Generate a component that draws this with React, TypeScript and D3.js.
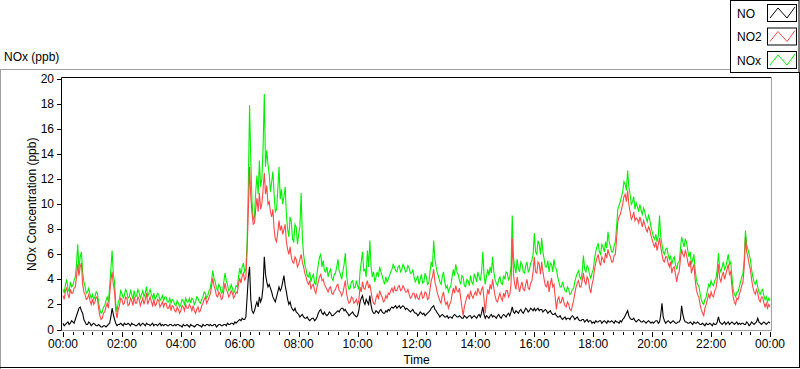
import { useEffect, useRef } from 'react'
import * as d3 from 'd3'

// Samples every 2.5 minutes, 00:00 -> 24:00 (one row per hour)
const no2 = [
  2.7, 2.4, 3.1, 3.3, 2.8, 2.5, 3.2, 2.9, 2.9, 3.3, 3.4, 4.2, 5.2, 4.3, 5.0, 5.3, 3.6, 3.0, 2.8, 2.4, 2.5, 2.8, 2.3, 2.0,
  2.4, 2.0, 2.2, 2.6, 2.5, 1.7, 1.1, 0.8, 0.9, 1.3, 1.4, 1.8, 2.1, 1.7, 2.8, 3.9, 4.6, 3.6, 3.0, 1.5, 0.9, 1.6, 1.9, 2.5,
  2.4, 2.0, 2.1, 2.6, 2.5, 1.9, 2.0, 2.5, 2.3, 1.9, 2.6, 2.1, 2.1, 2.6, 2.4, 1.9, 2.2, 2.5, 2.0, 2.4, 2.9, 2.0, 2.3, 2.6,
  2.2, 1.9, 2.4, 1.9, 2.0, 2.4, 2.3, 1.8, 2.0, 2.2, 1.8, 2.1, 2.1, 1.7, 1.7, 2.0, 1.5, 1.9, 1.8, 1.5, 1.4, 1.8, 1.6, 1.3,
  1.5, 1.9, 1.8, 1.5, 2.0, 1.7, 1.7, 2.0, 1.8, 1.5, 1.9, 1.5, 1.3, 1.6, 1.8, 1.4, 1.5, 1.9, 2.1, 2.4, 2.6, 2.1, 2.3, 2.6,
  2.8, 3.4, 4.1, 3.5, 3.2, 2.7, 2.6, 3.0, 2.8, 2.4, 2.5, 3.1, 3.7, 3.2, 3.0, 2.6, 2.8, 3.1, 2.9, 2.5, 2.7, 3.0, 2.9, 3.6,
  4.1, 3.7, 4.3, 4.5, 3.9, 4.2, 6.3, 9.5, 13.0, 10.6, 9.3, 8.4, 8.5, 9.6, 10.5, 9.4, 10.9, 9.6, 10.0, 11.2, 12.5, 10.8, 11.5, 10.0,
  10.2, 9.4, 9.0, 9.6, 8.0, 7.2, 7.0, 7.8, 8.7, 7.9, 8.3, 7.6, 8.0, 8.4, 7.0, 6.4, 6.0, 6.6, 5.8, 5.4, 5.3, 5.8, 5.6, 5.0,
  5.2, 5.6, 6.0, 5.4, 5.0, 4.5, 4.2, 3.8, 3.6, 3.9, 3.2, 3.5, 3.6, 3.1, 2.9, 3.4, 3.8, 4.2, 4.4, 3.9, 4.0, 3.6, 3.4, 3.2,
  3.0, 3.3, 3.4, 2.9, 2.8, 3.1, 3.2, 3.5, 3.6, 3.1, 3.0, 2.7, 2.9, 3.4, 3.9, 2.9, 2.4, 2.1, 2.2, 2.6, 2.5, 2.1, 2.2, 2.4,
  2.0, 2.3, 3.4, 3.0, 3.8, 3.3, 3.2, 3.6, 3.9, 3.3, 3.6, 3.0, 2.4, 2.1, 2.0, 2.5, 2.8, 2.4, 3.1, 2.8, 2.6, 2.2, 2.3, 2.7,
  2.5, 2.9, 2.8, 3.1, 3.3, 3.0, 3.4, 3.1, 3.1, 3.4, 3.5, 3.1, 3.2, 3.5, 3.3, 3.0, 3.0, 3.2, 2.8, 2.5, 2.6, 2.9, 2.9, 2.5,
  2.8, 2.5, 2.4, 2.8, 3.0, 2.5, 2.6, 3.0, 2.9, 2.4, 2.5, 3.2, 3.9, 4.2, 4.8, 3.8, 3.4, 2.9, 2.6, 2.3, 2.1, 2.7, 3.0, 2.3,
  2.0, 2.2, 1.7, 2.0, 2.2, 2.8, 3.3, 2.9, 3.5, 3.1, 3.0, 3.3, 2.5, 1.8, 1.1, 1.8, 2.2, 2.6, 2.8, 2.4, 3.1, 2.7, 2.5, 2.8,
  3.0, 2.7, 3.3, 3.0, 2.8, 3.2, 3.4, 2.4, 1.3, 2.4, 3.2, 2.8, 3.6, 3.2, 4.0, 3.3, 2.7, 2.3, 2.2, 2.6, 2.9, 2.5, 2.3, 2.9,
  2.6, 3.1, 3.1, 2.6, 2.8, 3.6, 7.3, 4.4, 3.6, 3.2, 4.2, 3.5, 3.0, 3.5, 3.8, 3.2, 3.1, 3.6, 4.0, 3.3, 3.2, 3.7, 3.9, 4.6,
  5.8, 4.6, 4.5, 5.4, 5.2, 4.4, 5.4, 4.6, 4.0, 3.5, 3.4, 3.9, 3.0, 3.6, 4.1, 3.4, 3.6, 2.6, 1.6, 2.4, 2.6, 2.1, 2.2, 2.6,
  2.2, 1.9, 1.8, 2.2, 2.0, 1.6, 1.5, 1.9, 2.3, 2.9, 3.4, 3.7, 3.9, 3.4, 3.4, 3.9, 4.5, 3.8, 3.6, 4.2, 4.0, 3.3, 2.9, 3.6,
  4.0, 4.8, 5.3, 5.7, 6.0, 5.4, 5.1, 5.8, 5.6, 5.3, 6.1, 5.7, 6.4, 6.0, 5.8, 5.4, 5.4, 5.9, 6.0, 7.2, 8.6, 9.0, 9.2, 9.6,
  10.0, 10.6, 10.8, 10.2, 11.1, 10.0, 9.4, 8.8, 9.0, 9.4, 8.7, 8.9, 8.8, 8.5, 9.0, 8.6, 8.2, 8.7, 8.4, 8.0, 7.8, 8.2, 8.0, 7.5,
  7.2, 6.8, 6.6, 7.0, 6.3, 6.8, 7.3, 6.6, 6.0, 5.5, 5.4, 5.8, 5.8, 5.3, 5.0, 5.4, 4.5, 4.9, 5.0, 4.4, 3.8, 4.4, 4.6, 5.6,
  6.4, 6.0, 5.8, 6.3, 6.0, 5.4, 5.0, 5.5, 4.5, 4.9, 5.2, 4.0, 3.2, 2.8, 2.6, 2.0, 1.6, 1.3, 1.1, 1.7, 2.0, 2.4, 2.8, 2.5,
  3.0, 2.7, 2.6, 3.1, 3.3, 4.0, 5.2, 4.1, 3.8, 4.3, 4.6, 4.0, 4.4, 4.8, 5.2, 4.4, 4.6, 3.4, 2.6, 2.2, 2.0, 2.5, 2.4, 2.8,
  3.1, 3.5, 3.8, 5.0, 7.4, 6.2, 5.8, 5.2, 4.8, 4.0, 3.4, 3.0, 2.8, 3.2, 2.9, 2.4, 2.2, 2.6, 2.6, 2.1, 1.8, 2.1, 1.7, 2.0,
  1.8,
]

const nox = [
  3.2, 2.9, 3.6, 4.0, 3.3, 3.0, 3.8, 3.4, 3.5, 3.9, 4.2, 5.2, 6.8, 4.8, 5.8, 6.2, 4.6, 3.8, 3.4, 2.9, 3.0, 3.3, 2.8, 2.5,
  2.8, 2.4, 2.6, 3.0, 2.9, 2.2, 1.6, 1.3, 1.4, 1.8, 1.9, 2.3, 2.6, 2.2, 3.4, 4.8, 6.3, 4.4, 3.8, 2.0, 1.4, 2.2, 2.4, 3.1,
  2.9, 2.5, 2.7, 3.2, 3.0, 2.5, 2.6, 3.1, 2.8, 2.4, 3.1, 2.6, 2.7, 3.2, 2.9, 2.5, 2.8, 3.1, 2.6, 2.9, 3.4, 2.6, 2.9, 3.2,
  2.8, 2.5, 2.9, 2.4, 2.6, 2.9, 2.8, 2.3, 2.5, 2.7, 2.3, 2.6, 2.6, 2.2, 2.2, 2.5, 2.1, 2.4, 2.3, 2.0, 1.9, 2.3, 2.1, 1.8,
  2.0, 2.4, 2.3, 2.0, 2.5, 2.2, 2.2, 2.5, 2.1, 2.5, 2.4, 2.0, 2.2, 2.6, 2.5, 2.2, 2.1, 2.4, 2.6, 3.0, 2.9, 2.5, 2.7, 3.1,
  3.3, 3.9, 4.7, 4.1, 3.8, 3.3, 3.1, 3.6, 3.4, 2.9, 3.0, 3.8, 4.5, 3.9, 3.6, 3.1, 3.2, 3.6, 3.3, 2.9, 3.1, 3.5, 3.4, 4.2,
  4.9, 4.4, 5.0, 5.3, 4.6, 4.8, 7.0, 11.5, 17.9, 13.5, 10.2, 8.8, 9.0, 11.0, 12.3, 10.8, 13.5, 11.4, 12.0, 14.4, 18.8, 13.0, 14.3, 13.2,
  12.4, 11.0, 11.8, 12.6, 10.8, 9.4, 9.6, 11.2, 13.0, 10.4, 11.2, 10.0, 10.6, 11.4, 9.2, 8.0, 7.4, 9.0, 8.6, 7.2, 7.0, 8.4, 8.2, 6.8,
  7.6, 8.2, 10.9, 7.4, 6.0, 5.2, 4.8, 4.3, 4.2, 4.6, 3.8, 4.2, 4.4, 3.7, 3.6, 4.5, 5.2, 5.8, 6.0, 5.0, 5.5, 4.7, 4.6, 5.0,
  4.2, 4.6, 4.8, 4.1, 3.9, 4.4, 4.5, 5.0, 5.6, 4.7, 4.4, 4.0, 4.6, 5.2, 6.1, 4.4, 3.6, 3.2, 3.3, 3.8, 3.9, 3.3, 3.4, 3.9,
  3.5, 3.2, 4.6, 5.4, 6.2, 4.7, 4.8, 4.2, 6.3, 5.0, 7.1, 5.0, 4.2, 4.6, 3.8, 4.2, 4.6, 4.2, 5.0, 4.6, 4.3, 3.9, 3.6, 4.2,
  3.8, 4.0, 4.3, 4.6, 4.8, 5.2, 5.0, 4.7, 4.6, 5.0, 5.1, 4.6, 4.8, 5.2, 5.0, 4.6, 4.7, 5.1, 4.9, 4.5, 4.5, 4.8, 4.2, 3.8,
  4.0, 4.3, 3.6, 4.0, 4.4, 3.7, 3.8, 4.5, 4.2, 3.6, 3.7, 4.6, 5.4, 5.0, 7.1, 5.6, 5.0, 4.5, 4.2, 3.8, 3.6, 4.2, 4.6, 3.8,
  3.3, 3.5, 3.0, 3.3, 3.5, 4.2, 4.8, 4.3, 5.2, 4.6, 4.4, 3.9, 3.6, 4.3, 4.2, 3.5, 3.4, 4.0, 3.9, 3.5, 4.3, 3.8, 3.6, 4.4,
  4.2, 3.8, 4.6, 4.2, 3.9, 4.6, 6.2, 4.4, 3.6, 4.2, 4.8, 4.3, 5.0, 4.5, 5.8, 4.6, 4.0, 3.7, 3.5, 4.0, 4.2, 3.7, 3.6, 4.3,
  4.0, 4.6, 4.5, 3.9, 4.2, 5.0, 9.1, 5.8, 5.0, 4.5, 5.6, 4.9, 4.6, 5.4, 5.2, 4.6, 4.5, 5.1, 5.4, 4.6, 4.8, 5.3, 5.5, 6.0,
  7.7, 6.2, 6.0, 7.1, 6.8, 6.0, 7.3, 6.2, 5.6, 5.0, 5.0, 5.5, 4.6, 5.3, 5.2, 4.6, 5.6, 5.0, 4.8, 4.2, 3.8, 3.4, 3.4, 3.8,
  3.4, 3.1, 3.0, 3.4, 3.2, 2.8, 2.9, 3.2, 3.3, 3.8, 4.2, 4.5, 4.7, 4.2, 4.0, 4.6, 5.9, 4.8, 4.6, 5.1, 4.9, 4.4, 4.1, 4.5,
  4.8, 5.6, 6.2, 6.6, 6.9, 6.2, 6.0, 6.8, 6.6, 6.2, 7.0, 6.5, 7.8, 7.0, 6.6, 6.2, 6.2, 6.7, 7.0, 8.2, 9.6, 9.9, 10.2, 10.6,
  11.0, 11.8, 11.6, 11.1, 12.7, 11.4, 10.8, 10.0, 10.2, 10.6, 9.6, 10.1, 9.8, 9.4, 10.0, 9.5, 9.2, 9.7, 9.4, 8.9, 8.6, 9.1, 8.8, 8.2,
  7.8, 7.4, 7.2, 7.6, 7.0, 7.5, 9.1, 7.4, 6.8, 6.2, 6.0, 6.4, 6.5, 6.0, 5.6, 5.9, 5.2, 5.6, 5.8, 5.2, 4.8, 5.3, 5.4, 6.4,
  7.4, 7.0, 6.6, 7.2, 7.0, 6.3, 5.8, 6.2, 5.2, 5.6, 6.0, 4.8, 4.0, 3.6, 3.5, 2.9, 2.4, 2.1, 2.0, 2.4, 2.6, 3.1, 3.6, 3.4,
  3.9, 3.6, 3.5, 3.9, 4.1, 4.8, 6.1, 4.9, 4.6, 5.0, 5.4, 4.8, 5.0, 5.5, 6.0, 5.2, 5.4, 4.2, 3.2, 2.8, 2.6, 3.0, 3.0, 3.4,
  3.8, 4.2, 4.5, 5.6, 7.9, 6.8, 6.4, 6.0, 5.6, 4.8, 4.2, 3.8, 3.6, 3.9, 3.4, 3.0, 2.8, 3.1, 3.2, 2.7, 2.4, 2.6, 2.2, 2.5,
  2.3,
]

const no = [
  0.5, 0.3, 0.4, 0.5, 0.6, 0.4, 0.5, 0.7, 0.6, 0.5, 0.8, 1.1, 1.4, 1.7, 1.8, 1.5, 1.3, 0.8, 0.6, 0.4, 0.4, 0.6, 0.5, 0.3,
  0.4, 0.5, 0.4, 0.3, 0.3, 0.4, 0.3, 0.2, 0.2, 0.3, 0.3, 0.2, 0.3, 0.4, 0.5, 1.0, 1.7, 1.2, 0.8, 0.5, 0.3, 0.4, 0.4, 0.5,
  0.4, 0.3, 0.5, 0.4, 0.4, 0.5, 0.4, 0.3, 0.5, 0.4, 0.4, 0.3, 0.3, 0.4, 0.5, 0.3, 0.4, 0.5, 0.4, 0.3, 0.5, 0.4, 0.4, 0.3,
  0.4, 0.5, 0.3, 0.4, 0.4, 0.3, 0.4, 0.5, 0.3, 0.4, 0.3, 0.4, 0.4, 0.3, 0.3, 0.4, 0.4, 0.3, 0.3, 0.4, 0.3, 0.4, 0.4, 0.3,
  0.3, 0.2, 0.4, 0.3, 0.3, 0.4, 0.3, 0.2, 0.4, 0.3, 0.3, 0.2, 0.3, 0.4, 0.4, 0.3, 0.3, 0.2, 0.4, 0.3, 0.3, 0.4, 0.4, 0.3,
  0.4, 0.3, 0.3, 0.4, 0.4, 0.2, 0.3, 0.4, 0.4, 0.3, 0.3, 0.4, 0.4, 0.3, 0.5, 0.4, 0.4, 0.5, 0.5, 0.4, 0.6, 0.5, 0.6, 0.7,
  0.8, 0.7, 0.9, 0.8, 0.8, 1.0, 2.6, 4.2, 5.0, 2.4, 1.5, 1.3, 1.5, 1.9, 2.2, 1.8, 2.6, 2.2, 2.5, 3.4, 5.8, 4.4, 3.8, 3.4,
  3.6, 3.3, 3.0, 2.6, 2.4, 2.2, 2.6, 3.0, 3.4, 3.1, 3.3, 3.8, 4.3, 3.5, 3.0, 2.4, 2.0, 2.2, 1.8, 1.6, 1.5, 1.7, 1.4, 1.3,
  1.2, 1.0, 1.1, 1.2, 1.0, 0.9, 0.9, 1.0, 0.8, 0.7, 0.8, 0.9, 0.9, 0.7, 0.8, 1.0, 1.3, 1.5, 1.6, 1.3, 1.2, 1.4, 1.2, 1.1,
  1.2, 1.4, 1.3, 1.1, 1.1, 1.2, 1.3, 1.4, 1.5, 1.4, 1.6, 1.7, 1.7, 1.5, 1.6, 1.4, 1.3, 1.1, 1.2, 1.3, 1.4, 1.2, 1.1, 1.0,
  1.1, 1.5, 2.2, 2.5, 2.7, 2.2, 2.0, 2.4, 2.2, 2.0, 2.7, 1.9, 1.5, 1.3, 1.3, 1.5, 1.4, 1.3, 1.5, 1.6, 1.4, 1.3, 1.3, 1.5,
  1.4, 1.6, 1.5, 1.7, 1.8, 1.7, 1.8, 1.9, 1.7, 1.8, 1.9, 1.7, 1.8, 1.9, 1.8, 1.6, 1.7, 1.6, 1.5, 1.4, 1.5, 1.6, 1.4, 1.3,
  1.3, 1.1, 1.2, 1.4, 1.3, 1.2, 1.3, 1.1, 1.2, 1.3, 1.4, 1.5, 1.7, 1.8, 1.9, 1.6, 1.5, 1.3, 1.2, 1.0, 1.1, 1.2, 1.1, 1.0,
  1.0, 1.1, 0.9, 1.0, 1.0, 0.9, 1.1, 1.2, 1.1, 1.0, 1.0, 1.1, 1.0, 0.9, 0.9, 1.1, 1.0, 0.9, 1.0, 1.1, 1.1, 0.9, 1.0, 1.1,
  1.0, 0.9, 1.1, 1.2, 1.0, 1.3, 1.8, 1.2, 0.9, 1.1, 1.0, 0.9, 1.1, 1.2, 1.0, 1.1, 1.0, 0.9, 1.1, 1.2, 1.0, 0.9, 1.1, 1.2,
  1.1, 1.0, 1.2, 1.3, 1.1, 1.4, 1.8, 1.4, 1.3, 1.5, 1.4, 1.3, 1.5, 1.6, 1.4, 1.3, 1.5, 1.7, 1.6, 1.4, 1.5, 1.7, 1.6, 1.5,
  1.7, 1.5, 1.6, 1.7, 1.5, 1.6, 1.6, 1.4, 1.5, 1.6, 1.5, 1.3, 1.4, 1.5, 1.3, 1.2, 1.2, 1.3, 1.1, 1.0, 1.0, 1.1, 0.9, 0.8,
  0.9, 1.0, 0.8, 0.9, 0.9, 0.8, 1.0, 1.1, 1.0, 0.8, 0.9, 1.0, 0.8, 0.7, 0.7, 0.8, 0.8, 0.6, 0.7, 0.8, 0.6, 0.7, 0.7, 0.5,
  0.6, 0.5, 0.7, 0.6, 0.6, 0.7, 0.7, 0.5, 0.6, 0.7, 0.6, 0.5, 0.7, 0.6, 0.6, 0.7, 0.6, 0.5, 0.7, 0.6, 0.6, 0.5, 0.7, 0.6,
  0.8, 0.9, 1.1, 1.3, 1.5, 1.1, 0.9, 0.8, 0.8, 0.9, 0.7, 0.6, 0.7, 0.8, 0.7, 0.6, 0.6, 0.7, 0.6, 0.5, 0.6, 0.7, 0.6, 0.5,
  0.6, 0.5, 0.6, 0.7, 0.7, 0.5, 0.6, 1.2, 2.1, 1.0, 0.7, 0.5, 0.6, 0.7, 0.6, 0.5, 0.6, 0.7, 0.6, 0.5, 0.5, 0.6, 0.6, 0.8,
  1.9, 1.2, 0.8, 0.6, 0.6, 0.5, 0.5, 0.6, 0.5, 0.4, 0.6, 0.5, 0.5, 0.6, 0.5, 0.4, 0.4, 0.5, 0.4, 0.3, 0.5, 0.4, 0.4, 0.5,
  0.4, 0.3, 0.5, 0.4, 0.4, 0.6, 1.0, 0.6, 0.5, 0.4, 0.5, 0.6, 0.4, 0.5, 0.6, 0.4, 0.5, 0.6, 0.5, 0.4, 0.5, 0.6, 0.4, 0.5,
  0.4, 0.5, 0.5, 0.4, 0.4, 0.6, 0.5, 0.3, 0.4, 0.6, 0.5, 0.4, 0.5, 0.6, 0.9, 0.6, 0.5, 0.4, 0.5, 0.6, 0.5, 0.4, 0.5, 0.6,
  0.5,
]

const series = [
  { name: 'NO', values: no, color: '#000000' },
  { name: 'NO2', values: no2, color: '#ff4848' },
  { name: 'NOx', values: nox, color: '#00f000' },
]

const yTicks = [0, 2, 4, 6, 8, 10, 12, 14, 16, 18, 20]

const FONT = '"Liberation Sans", Arial, sans-serif'

export default function App() {
  const ref = useRef<SVGSVGElement>(null)

  useEffect(() => {
    if (!ref.current) return
    const W = 800
    const H = 369
    const plot = { left: 63, right: 770, top: 79, bottom: 329.5 }

    const svg = d3.select(ref.current)
    svg.selectAll('*').remove()
    svg.attr('width', W).attr('height', H).style('font-family', FONT)

    svg.append('rect').attr('width', W).attr('height', H).attr('fill', '#ffffff')

    const t0 = new Date(2000, 0, 1, 0, 0)
    const t1 = new Date(2000, 0, 2, 0, 0)
    const x = d3.scaleTime().domain([t0, t1]).range([plot.left, plot.right])
    const y = d3.scaleLinear().domain([0, 20]).range([plot.bottom, plot.top])
    // evenly spaced samples over the day
    const timeAt = (i: number, n: number) => new Date(t0.getTime() + (i / (n - 1)) * (t1.getTime() - t0.getTime()))

    // outer frame (sunken look: grey top/left, black bottom/right)
    svg.append('line').attr('x1', 0).attr('x2', 730).attr('y1', 69.5).attr('y2', 69.5).attr('stroke', '#a0a0a0')
    svg.append('line').attr('x1', 0.5).attr('x2', 0.5).attr('y1', 69.5).attr('y2', H).attr('stroke', '#a0a0a0')
    svg.append('line').attr('x1', 0).attr('x2', W).attr('y1', 367.5).attr('y2', 367.5).attr('stroke', '#000')
    svg.append('line').attr('x1', 799.5).attr('x2', 799.5).attr('y1', 72).attr('y2', 368).attr('stroke', '#000')

    // y title above plot
    svg.append('text').attr('x', 4).attr('y', 61).attr('font-size', 12).attr('fill', '#000').text('NOx (ppb)')

    // plot area border
    const pb = svg.append('g')
    pb.append('line').attr('x1', plot.left - 1.5).attr('x2', plot.right + 1.5).attr('y1', 77.5).attr('y2', 77.5).attr('stroke', '#000')
    pb.append('line').attr('x1', plot.left - 1.5).attr('x2', plot.left - 1.5).attr('y1', 77.5).attr('y2', 331).attr('stroke', '#000')
    pb.append('line').attr('x1', plot.left - 1.5).attr('x2', plot.right + 1.5).attr('y1', 330.5).attr('y2', 330.5).attr('stroke', '#a0a0a0')
    pb.append('line').attr('x1', plot.right + 1.5).attr('x2', plot.right + 1.5).attr('y1', 77.5).attr('y2', 331).attr('stroke', '#a0a0a0')

    // series lines
    const lineGen = (vals: number[]) =>
      d3.line<number>()
        .x((_, i) => x(timeAt(i, vals.length)))
        .y((d) => y(d))(vals)

    const drawOrder = [series[2], series[1], series[0]]
    svg.append('g')
      .selectAll('path')
      .data(drawOrder)
      .join('path')
      .attr('d', (s) => lineGen(s.values))
      .attr('fill', 'none')
      .attr('stroke', (s) => s.color)
      .attr('stroke-width', 1.1)
      .attr('stroke-linejoin', 'miter')

    // y axis
    const ya = svg.append('g')
    ya.selectAll('line')
      .data(yTicks)
      .join('line')
      .attr('x1', 57)
      .attr('x2', 61)
      .attr('y1', (d) => Math.round(y(d)) + 0.5)
      .attr('y2', (d) => Math.round(y(d)) + 0.5)
      .attr('stroke', '#000')
    ya.selectAll('text')
      .data(yTicks)
      .join('text')
      .attr('x', 54)
      .attr('y', (d) => y(d) + 4)
      .attr('text-anchor', 'end')
      .attr('font-size', 12)
      .attr('fill', '#000')
      .text((d) => d)

    svg.append('text')
      .attr('transform', `translate(36,${(plot.top + plot.bottom) / 2}) rotate(-90)`)
      .attr('text-anchor', 'middle')
      .attr('font-size', 12)
      .attr('fill', '#000')
      .text('NOx Concentration (ppb)')

    // x axis
    const xa = svg.append('g')
    const minor = x.ticks(d3.timeMinute.every(20)!)
    const major = x.ticks(d3.timeHour.every(2)!)
    xa.selectAll('line.minor')
      .data(minor)
      .join('line')
      .attr('class', 'minor')
      .attr('x1', (d) => Math.round(x(d)) + 0.5)
      .attr('x2', (d) => Math.round(x(d)) + 0.5)
      .attr('y1', 332)
      .attr('y2', 335)
      .attr('stroke', '#000')
    xa.selectAll('line.major')
      .data(major)
      .join('line')
      .attr('class', 'major')
      .attr('x1', (d) => Math.round(x(d)) + 0.5)
      .attr('x2', (d) => Math.round(x(d)) + 0.5)
      .attr('y1', 332)
      .attr('y2', 337)
      .attr('stroke', '#000')
    xa.selectAll('text')
      .data(major)
      .join('text')
      .attr('x', (d) => x(d))
      .attr('y', 348)
      .attr('text-anchor', 'middle')
      .attr('font-size', 12)
      .attr('fill', '#000')
      .text((d) => (d.getTime() === t1.getTime() ? '00:00' : d3.timeFormat('%H:%M')(d)))

    svg.append('text')
      .attr('x', (plot.left + plot.right) / 2)
      .attr('y', 364)
      .attr('text-anchor', 'middle')
      .attr('font-size', 12)
      .attr('fill', '#000')
      .text('Time')

    // legend
    const lg = svg.append('g')
    lg.append('rect').attr('x', 730.5).attr('y', 0.5).attr('width', 68.5).attr('height', 72).attr('fill', '#fff').attr('stroke', '#000')
    series.forEach((s, i) => {
      const top = 4 + i * 23.5
      lg.append('text').attr('x', 737).attr('y', top + 13.5).attr('font-size', 12).attr('fill', '#000').text(s.name)
      lg.append('rect').attr('x', 767.5).attr('y', top + 0.5).attr('width', 29).attr('height', 17).attr('fill', '#fff').attr('stroke', '#000')
      const pts: [number, number][] = [[770, top + 14], [778, top + 4], [787, top + 14], [795, top + 3]]
      lg.append('path').attr('d', d3.line()(pts)!).attr('fill', 'none').attr('stroke', s.color)
    })
  }, [])

  return (
    <div style={{ position: 'absolute', left: 0, top: 0 }}>
      <svg ref={ref} style={{ display: 'block' }} />
    </div>
  )
}
